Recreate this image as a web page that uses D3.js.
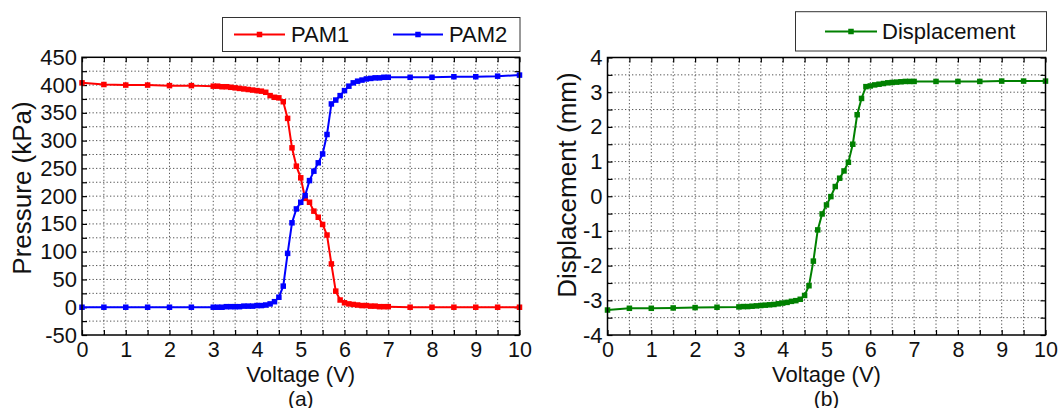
<!DOCTYPE html>
<html>
<head>
<meta charset="utf-8">
<script src="https://cdn.jsdelivr.net/npm/d3@7"></script>
<style>
  html, body { margin: 0; padding: 0; background: #fff; }
  svg { display: block; font-family: "Liberation Sans", Arial, sans-serif; }
</style>
</head>
<body>
<svg id="fig" width="1059" height="408"></svg>
<script>
// Supply voltage (V) at each measurement
const voltage = [0, 0.5, 1, 1.5, 2, 2.5,
  3.0, 3.1, 3.2, 3.3, 3.4, 3.5, 3.6, 3.7, 3.8, 3.9,
  4.0, 4.1, 4.2, 4.3, 4.4, 4.5, 4.6, 4.7, 4.8, 4.9,
  5.0, 5.1, 5.2, 5.3, 5.4, 5.5, 5.6, 5.7, 5.8, 5.9,
  6.0, 6.1, 6.2, 6.3, 6.4, 6.5, 6.6, 6.7, 6.8, 6.9, 7.0,
  7.5, 8, 8.5, 9, 9.5, 10];

// PAM1 pressure (kPa)
const pam1 = [404, 401, 400, 400, 399, 399,
  398, 398, 397, 397, 396, 395, 394, 393, 392, 391,
  390, 389, 387, 381, 378, 377, 370, 340, 287, 254,
  233, 196, 189, 173, 162, 149, 130, 78, 29, 13,
  8, 6, 5, 4, 3, 3, 2, 2, 1, 1, 1,
  0, 0, 0, 0, 0, 0];

// PAM2 pressure (kPa)
const pam2 = [0, 0, 0, 0, 0, 0,
  0, 0, 0, 1, 1, 1, 1, 2, 2, 2,
  3, 3, 4, 6, 10, 18, 38, 97, 152, 177,
  189, 201, 228, 245, 260, 276, 311, 366, 373, 381,
  390, 398, 404, 407, 409, 411, 412, 413, 413, 414, 414,
  414, 414, 415, 415, 416, 418];

// Displacement (mm)
const displacement = [-3.28, -3.23, -3.23, -3.22, -3.21, -3.20,
  -3.19, -3.18, -3.18, -3.17, -3.16, -3.15, -3.14, -3.13, -3.12, -3.10,
  -3.08, -3.06, -3.03, -3.01, -2.97, -2.86, -2.58, -1.87, -0.97, -0.51,
  -0.25, -0.01, 0.28, 0.52, 0.73, 0.98, 1.50, 2.35, 2.82, 3.16,
  3.18, 3.21, 3.23, 3.25, 3.27, 3.28, 3.29, 3.30, 3.31, 3.31, 3.31,
  3.31, 3.31, 3.31, 3.32, 3.32, 3.32];

const xTicks = [0, 1, 2, 3, 4, 5, 6, 7, 8, 9, 10];
const pressureTicks = [-50, 0, 50, 100, 150, 200, 250, 300, 350, 400, 450];
const dispTicks = [-4, -3, -2, -1, 0, 1, 2, 3, 4];

const svg = d3.select("#fig");
const MARK = 5.5;
const FONT = "Liberation Sans, Arial, sans-serif";
const plain = d => String(d);   // keep an ASCII hyphen for negatives

function panel(opts) {
  const { x0, x1, y0, y1, yDomain, yTicks, yStep, series, yTitle, caption, legend } = opts;
  const x = d3.scaleLinear().domain([0, 10]).range([x0, x1]);
  const y = d3.scaleLinear().domain(yDomain).range([y1, y0]);
  const g = svg.append("g");

  // dotted grid every 0.5 V and every minor y step
  const xGrid = d3.range(0.5, 10, 0.5);
  const yGrid = d3.range(yDomain[0] + yStep, yDomain[1] - yStep / 2, yStep);
  g.append("g").selectAll("line").data(xGrid).join("line")
    .attr("x1", d => x(d)).attr("x2", d => x(d))
    .attr("y1", y0).attr("y2", y1)
    .attr("stroke", "#555").attr("stroke-width", 1).attr("stroke-dasharray", "1.3,2.2");
  g.append("g").selectAll("line").data(yGrid).join("line")
    .attr("y1", d => y(d)).attr("y2", d => y(d))
    .attr("x1", x0).attr("x2", x1)
    .attr("stroke", "#555").attr("stroke-width", 1).attr("stroke-dasharray", "1.3,2.2");

  // inward ticks on all four sides
  const xTickAll = d3.range(0, 10.01, 0.5);
  const yTickAll = d3.range(yDomain[0], yDomain[1] + yStep / 2, yStep);
  const styleAxis = a => { a.select(".domain").remove(); a.selectAll("line").attr("stroke", "#000").attr("stroke-width", 1.2); };
  g.append("g").attr("transform", `translate(0,${y1})`)
    .call(d3.axisBottom(x).tickValues(xTickAll).tickSize(-5).tickFormat(""))
    .call(styleAxis);
  g.append("g").attr("transform", `translate(0,${y0})`)
    .call(d3.axisTop(x).tickValues(xTickAll).tickSize(-5).tickFormat(""))
    .call(styleAxis);
  g.append("g").attr("transform", `translate(${x0},0)`)
    .call(d3.axisLeft(y).tickValues(yTickAll).tickSize(-5).tickFormat(""))
    .call(styleAxis);
  g.append("g").attr("transform", `translate(${x1},0)`)
    .call(d3.axisRight(y).tickValues(yTickAll).tickSize(-5).tickFormat(""))
    .call(styleAxis);

  // tick labels
  const xl = g.append("g").attr("transform", `translate(0,${y1})`)
    .call(d3.axisBottom(x).tickValues(xTicks).tickSize(0).tickPadding(6.5).tickFormat(plain));
  xl.select(".domain").remove();
  xl.selectAll("text").attr("font-size", 21.5).attr("fill", "#111").attr("font-family", FONT);
  const yl = g.append("g").attr("transform", `translate(${x0},0)`)
    .call(d3.axisLeft(y).tickValues(yTicks).tickSize(0).tickPadding(5).tickFormat(plain));
  yl.select(".domain").remove();
  yl.selectAll("text").attr("font-size", 22).attr("fill", "#111").attr("font-family", FONT);

  // series
  series.forEach(s => {
    const pts = voltage.map((v, i) => [v, s.values[i]]);
    g.append("path").datum(pts)
      .attr("fill", "none").attr("stroke", s.color).attr("stroke-width", 2)
      .attr("d", d3.line().x(d => x(d[0])).y(d => y(d[1])));
    g.append("g").selectAll("rect").data(pts).join("rect")
      .attr("x", d => x(d[0]) - MARK / 2).attr("y", d => y(d[1]) - MARK / 2)
      .attr("width", MARK).attr("height", MARK).attr("fill", s.color);
  });

  // frame
  g.append("rect").attr("x", x0).attr("y", y0).attr("width", x1 - x0).attr("height", y1 - y0)
    .attr("fill", "none").attr("stroke", "#000").attr("stroke-width", 1.5);

  // titles
  g.append("text").attr("x", (x0 + x1) / 2).attr("y", 382).attr("text-anchor", "middle")
    .attr("font-size", 22).attr("fill", "#111").text("Voltage (V)");
  g.append("text").attr("x", (x0 + x1) / 2).attr("y", 405.5).attr("text-anchor", "middle")
    .attr("font-size", 21).attr("fill", "#111").text(caption);
  g.append("text").attr("transform", `translate(${opts.yTitleX},${opts.yTitleY}) rotate(-90)`)
    .attr("text-anchor", "middle").attr("font-size", 26).attr("fill", "#111").text(yTitle);

  // legend
  const lg = g.append("g");
  lg.append("rect").attr("x", legend.x0).attr("y", legend.y0)
    .attr("width", legend.x1 - legend.x0).attr("height", legend.y1 - legend.y0)
    .attr("fill", "#fff").attr("stroke", "#333").attr("stroke-width", 1);
  legend.items.forEach(it => {
    const cy = legend.cy;
    lg.append("line").attr("x1", it.lx0).attr("x2", it.lx1).attr("y1", cy).attr("y2", cy)
      .attr("stroke", it.color).attr("stroke-width", 2);
    lg.append("rect").attr("x", (it.lx0 + it.lx1) / 2 - MARK / 2).attr("y", cy - MARK / 2)
      .attr("width", MARK).attr("height", MARK).attr("fill", it.color);
    lg.append("text").attr("x", it.tx).attr("y", cy + 7.8).attr("font-size", 22)
      .attr("fill", "#111").text(it.label);
  });
}

panel({
  x0: 82, x1: 519.5, y0: 57.3, y1: 335,
  yDomain: [-50, 450], yTicks: pressureTicks, yStep: 25,
  series: [{ values: pam1, color: "#ff0000" }, { values: pam2, color: "#0000ff" }],
  yTitle: "Pressure (kPa)", yTitleX: 31, yTitleY: 188, caption: "(a)",
  legend: {
    x0: 222.5, x1: 520, y0: 17.5, y1: 51.5, cy: 34.5,
    items: [
      { label: "PAM1", color: "#ff0000", lx0: 234, lx1: 285, tx: 291 },
      { label: "PAM2", color: "#0000ff", lx0: 393, lx1: 443, tx: 449 }
    ]
  }
});

panel({
  x0: 607.5, x1: 1045.5, y0: 57.5, y1: 335,
  yDomain: [-4, 4], yTicks: dispTicks, yStep: 0.5,
  series: [{ values: displacement, color: "#008000" }],
  yTitle: "Displacement (mm)", yTitleX: 576, yTitleY: 185, caption: "(b)",
  legend: {
    x0: 795.5, x1: 1046.5, y0: 11.7, y1: 51, cy: 31.5,
    items: [
      { label: "Displacement", color: "#008000", lx0: 825, lx1: 877, tx: 882 }
    ]
  }
});
</script>
</body>
</html>
